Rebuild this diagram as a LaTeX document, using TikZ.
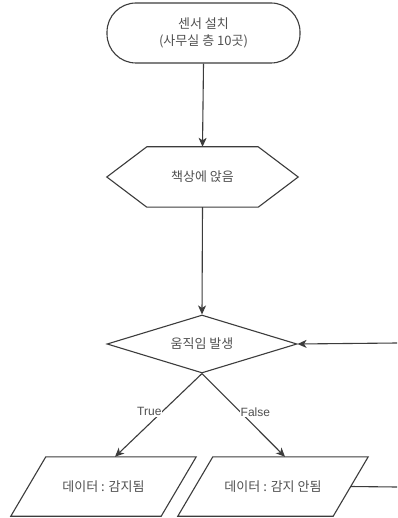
\documentclass[tikz,border=0pt]{standalone}
\usepackage{fontspec}
\newfontfamily\kr{Noto Sans CJK KR}
\newfontfamily\lat{Liberation Sans}
\usetikzlibrary{shapes.geometric,arrows.meta,calc}
\definecolor{linec}{HTML}{3C3C3C}
\definecolor{textc}{HTML}{505050}
\tikzset{
  shapeline/.style={draw=linec, line width=1.1pt},
  txt/.style={text=textc, font=\kr\fontsize{13}{17}\selectfont, align=center},
  arr/.style={draw=linec, line width=1.1pt, -{Stealth[length=9pt,width=8pt,inset=2.5pt]}},
  plain/.style={draw=linec, line width=1.1pt},
  lbl/.style={text=textc, font=\lat\fontsize{12}{14}\selectfont, fill=white, inner sep=1pt},
}
\begin{document}
\begin{tikzpicture}[x=1pt,y=-1pt]
\useasboundingbox[fill=white] (0,0) rectangle (397,518);
% terminal
\node[shapeline, txt, rounded corners=29pt, minimum width=193pt, minimum height=60pt, inner sep=0pt] (start) at (203.5,33) {센서 설치\\(사무실 층 10곳)};
% hexagon
\node[txt, minimum width=191pt, minimum height=60pt, inner sep=0pt] (hex) at (202.5,177) {책상에 앉음};
\draw[shapeline] (hex.west) -- ([xshift=40pt]hex.north west) -- ([xshift=-40pt]hex.north east) -- (hex.east) -- ([xshift=-40pt]hex.south east) -- ([xshift=40pt]hex.south west) -- cycle;
% diamond
\node[shapeline, txt, diamond, aspect=3.28, inner sep=0pt, minimum width=190pt, minimum height=58pt] (dec) at (202,344) {움직임 발생};
% parallelograms
\node[txt, minimum width=185pt, minimum height=59pt, inner sep=0pt] (p1) at (103.5,486.5) {데이터 : 감지됨};
\draw[shapeline] ([xshift=35pt]p1.north west) -- (p1.north east) -- ([xshift=-35pt]p1.south east) -- (p1.south west) -- cycle;
\node[txt, minimum width=190pt, minimum height=59pt, inner sep=0pt] (p2) at (273,486.5) {데이터 : 감지 안됨};
\draw[shapeline] ([xshift=35pt]p2.north west) -- (p2.north east) -- ([xshift=-35pt]p2.south east) -- (p2.south west) -- cycle;
% loop coordinates
\coordinate (loopin) at (397,343);
\coordinate (loopout) at (397,487);
\coordinate (p2r) at ($(p2.east)+(-17.5,0)$);
\coordinate (p1t) at ($(p1.north)+(11.5,0)$);
\coordinate (p2t) at ($(p2.north)+(12,0)$);
% connectors
\draw[arr] (start.south) -- (hex.north);
\draw[arr] (hex.south) -- (dec.north);
\draw[arr] (loopin) -- (dec.east);
\draw[arr] (dec.south) -- node[lbl, pos=0.46, left=-1pt] {True} (p1t);
\draw[arr] (dec.south) -- node[lbl, pos=0.46, right=-1pt] {False} (p2t);
\draw[plain] (p2r) -- (loopout);
\end{tikzpicture}
\end{document}
